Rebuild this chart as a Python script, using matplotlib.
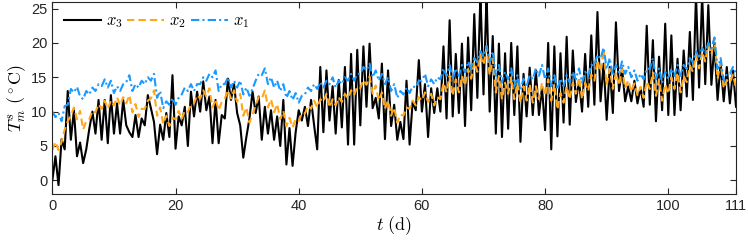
import numpy as np
import matplotlib
matplotlib.use("Agg")
from matplotlib import pyplot as plt

# time axis, half-day samples 0 .. 111 d
t = np.arange(0, 111.01, 0.5)

# x3 (black), values at t = 0, 0.5, 1, ...
x3 = [
    0, 3.5, -0.7, 6, 4.5, 13, 5.9, 10.2, 3.5, 5.5,
    2.5, 4.5, 7.5, 10, 6.8, 11.7, 5.9, 11.7, 5.4, 12.4,
    6.8, 11.2, 6.8, 11.7, 8, 7, 6.3, 9.5, 6.3, 9,
    8, 12.4, 10.5, 8.5, 3.8, 8.1, 5.9, 9.8, 6.3, 15.3,
    4.6, 9.3, 8, 10.7, 5, 12.9, 9.3, 12.9, 10, 14.4,
    10.2, 12.2, 5.4, 11.7, 5.4, 9.5, 9, 14.8, 11.7, 14,
    9.8, 8, 3.3, 6.3, 9, 12.9, 9.8, 12.2, 5.9, 10.7,
    6.8, 10.2, 5.9, 9.3, 5, 11.7, 2.3, 7.6, 2.1, 7,
    10.2, 8.7, 10.7, 7.9, 11.7, 8, 4.5, 16.5, 7, 16,
    8.7, 13.7, 6.8, 14.6, 7.7, 16.5, 5.2, 18.4, 5.2, 19,
    8, 19.5, 10.7, 19.9, 10.5, 12, 9, 17, 6, 16,
    7.9, 11, 5.9, 8.5, 6, 14.5, 5.2, 11.5, 10.2, 17.5,
    10, 14, 6.3, 13.4, 9.8, 13.4, 10, 19.5, 9, 23.3,
    9.3, 18.4, 9.8, 19.9, 7.9, 20.8, 10.2, 24.2, 12, 27,
    12.5, 27, 10, 21, 6.8, 19.9, 6.3, 18.5, 7.5, 20,
    9.5, 19.5, 5.6, 15.5, 9.3, 16.4, 9.5, 16, 9.5, 13.5,
    7.3, 20, 4.5, 19.5, 6.4, 18.5, 8.4, 20.9, 8.1, 18.9,
    11.4, 14.6, 10, 18.4, 10.7, 21.1, 11, 24.5, 11.5, 17,
    8.8, 16.5, 9.8, 23, 13, 16.3, 11.5, 13.7, 11.5, 14.5,
    11.2, 13.5, 10.7, 22.5, 11, 20.4, 8.6, 18, 10.2, 22.8,
    9.5, 21.1, 9.5, 17.7, 10.2, 18.9, 12.2, 21.6, 11.7, 27,
    13.5, 27, 14, 25.5, 13.9, 19.9, 11.7, 17, 11.5, 16.5,
    11.2, 16, 10.7,
]

# x2 (orange dashed)
x2 = [
    4.4, 5.6, 4.4, 5.6, 7.4, 8.6, 9.4, 10.6, 8.9, 10.1,
    7.4, 8.6, 8.9, 10.1, 9.9, 11.1, 10.4, 11.6, 10.4, 11.6,
    10.9, 12.1, 10.9, 12.1, 11.2, 12.4, 9.9, 11.1, 9.2, 10.4,
    10.4, 11.6, 11.9, 13.1, 9.4, 10.6, 8.2, 9.4, 7.9, 9.1,
    8.9, 10.1, 8.9, 10.1, 9.9, 11.1, 11.2, 12.4, 11.9, 13.1,
    12.2, 13.4, 10.6, 11.8, 10.2, 11.4, 11.9, 13.1, 11.9, 13.1,
    11.4, 12.6, 9.4, 10.6, 8.4, 9.6, 10.9, 12.1, 11.9, 13.1,
    10.6, 11.8, 9.9, 11.1, 8.9, 10.1, 7.9, 9.1, 7.7, 8.9,
    8.6, 9.8, 9.7, 10.9, 10.4, 11.6, 10.6, 11.8, 11.4, 12.6,
    10.6, 11.8, 10.9, 12.1, 11.4, 12.6, 11.9, 13.1, 12.4, 13.6,
    13.4, 14.6, 13.9, 15.1, 12.6, 13.8, 11.6, 12.8, 10.4, 11.6,
    9.4, 10.6, 8.4, 9.6, 9.4, 10.6, 10.4, 11.6, 10.9, 12.1,
    11.6, 12.8, 11.4, 12.6, 10.9, 12.1, 11.8, 14.2, 12.8, 15.2,
    12.3, 14.7, 12.8, 15.2, 13.8, 16.2, 14.8, 17.2, 15.8, 18.2,
    16.8, 19.2, 15.3, 17.7, 12.8, 15.2, 11.8, 14.2, 12.6, 15.0,
    11.8, 14.2, 11.3, 13.7, 11.6, 14.0, 11.3, 13.7, 11.8, 14.2,
    12.3, 14.7, 11.6, 14.0, 10.3, 12.7, 11.3, 13.7, 11.8, 14.2,
    12.6, 15.0, 11.8, 14.2, 13.0, 15.4, 14.5, 17.5, 15.8, 19.0,
    13.8, 16.2, 13.3, 15.7, 13.8, 16.2, 13.4, 14.6, 12.9, 14.1,
    12.4, 13.6, 12.0, 14.4, 13.3, 15.7, 12.3, 14.7, 11.6, 14.0,
    12.6, 15.0, 13.3, 15.7, 12.8, 15.2, 14.3, 16.7, 15.8, 18.2,
    16.3, 18.7, 17.3, 19.7, 18.3, 20.7, 14.8, 17.2, 13.4, 14.6,
    14.2, 15.4, 13.4,
]

# x1 (blue dash-dot)
x1 = [
    10.0, 9.2, 9.8, 8.6, 10.8, 11.0, 13.3, 12.8, 13.6, 12.2,
    11.8, 13.0, 12.5, 13.5, 13.0, 14.0, 13.7, 14.7, 13.5, 14.5,
    12.7, 13.7, 13.0, 14.0, 14.3, 15.3, 13.0, 14.0, 13.5, 14.5,
    14.0, 15.0, 14.5, 15.5, 12.0, 13.0, 10.5, 11.5, 11.0, 12.0,
    11.0, 12.0, 12.5, 13.5, 13.0, 14.0, 13.0, 14.0, 14.0, 15.0,
    14.5, 15.5, 15.0, 16.0, 13.0, 14.0, 14.0, 15.0, 13.5, 14.5,
    13.5, 14.5, 12.5, 13.5, 12.3, 13.3, 14.5, 15.5, 15.3, 16.3,
    14.0, 15.0, 13.5, 14.5, 13.0, 14.0, 12.0, 13.0, 11.7, 12.7,
    11.3, 12.3, 12.5, 13.5, 13.0, 14.0, 13.3, 14.3, 13.5, 14.5,
    14.0, 15.0, 13.5, 14.5, 14.0, 15.0, 14.5, 15.5, 14.5, 15.5,
    15.5, 16.5, 16.0, 17.0, 15.0, 16.0, 14.5, 15.5, 14.0, 15.0,
    13.0, 14.0, 12.0, 13.0, 12.5, 13.5, 12.7, 13.7, 13.5, 14.5,
    14.5, 15.5, 13.7, 14.7, 14.0, 15.0, 14.7, 16.3, 15.2, 16.8,
    14.7, 16.3, 15.2, 16.8, 15.7, 17.3, 16.2, 17.8, 17.2, 18.8,
    18.0, 19.6, 17.2, 18.8, 15.2, 16.8, 14.2, 15.8, 14.7, 16.3,
    13.7, 15.3, 13.2, 14.8, 13.7, 15.3, 14.7, 16.3, 15.2, 16.8,
    14.7, 16.3, 13.7, 15.3, 13.2, 14.8, 13.7, 15.3, 14.2, 15.8,
    14.7, 16.3, 14.2, 15.8, 15.2, 16.8, 16.7, 18.3, 17.7, 19.3,
    16.2, 17.8, 15.2, 16.8, 15.7, 17.3, 15.5, 16.5, 15.0, 16.0,
    14.5, 15.5, 14.7, 16.3, 16.2, 17.8, 14.7, 16.3, 14.2, 15.8,
    14.7, 16.3, 15.2, 16.8, 15.2, 16.8, 16.2, 17.8, 17.2, 18.8,
    17.7, 19.3, 18.4, 20.0, 19.2, 20.8, 16.2, 17.8, 14.5, 15.5,
    15.5, 16.5, 15.5,
]

xticks = [0, 20, 40, 60, 80, 100, 111]
yticks = [0, 5, 10, 15, 20, 25]

plt.rcParams['font.family'] = ['Liberation Sans', 'DejaVu Sans']
plt.rcParams['mathtext.fontset'] = 'cm'

fig = plt.figure(figsize=(7.48, 2.45), dpi=100)
ax = fig.add_axes([0.07, 0.208, 0.914, 0.785])

ax.plot(t, x3, color='black', lw=1.5, label=r'$x_3$')
ax.plot(t, x2, color=(1.0, 0.65, 0.1), lw=1.5, ls=(0, (3.5, 2)), label=r'$x_2$')
ax.plot(t, x1, color=(0.1, 0.6, 1.0), lw=1.5, ls=(0, (4, 1.5, 1, 1.5)), label=r'$x_1$')

ax.set_xlim(0, 111)
ax.set_ylim(-2, 26)
ax.set_xticks(xticks)
ax.set_yticks(yticks)
ax.tick_params(direction='in', top=True, right=True, labelsize=10.5, length=4, width=0.8, colors='#262626')
for s in ax.spines.values():
    s.set_linewidth(0.8)
    s.set_color('#262626')

ax.set_xlabel(r'$t\ \mathrm{(d)}$', fontsize=13, labelpad=1)
ax.set_ylabel(r'$T_m^s\ (^\circ\mathrm{C})$', fontsize=13, labelpad=2)

ax.legend(loc='upper left', ncol=3, frameon=False, fontsize=12, handlelength=2.2,
          columnspacing=0.3, handletextpad=0.3, borderaxespad=0.3,
          bbox_to_anchor=(0.0, 1.0))

fig.savefig('out.png', dpi=100)
